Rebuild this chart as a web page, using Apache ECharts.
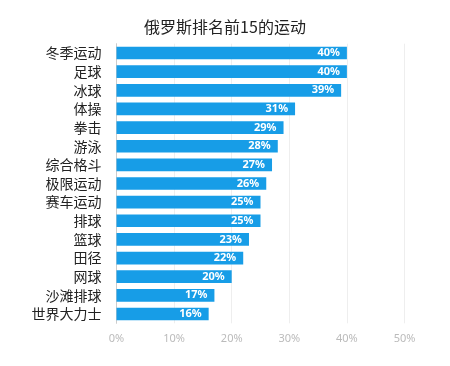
<!DOCTYPE html>
<html><head><meta charset="utf-8">
<script src="https://cdn.jsdelivr.net/npm/echarts@6/dist/echarts.min.js"></script>
<style>html,body{margin:0;padding:0;background:#fff}#c{width:450px;height:366px}</style>
</head><body><div id="c"></div>
<script>
const categories = ['冬季运动','足球','冰球','体操','拳击','游泳','综合格斗','极限运动','赛车运动','排球','篮球','田径','网球','沙滩排球','世界大力士'];
const values = [40,40,39,31,29,28,27,26,25,25,23,22,20,17,16];
const titleText = '俄罗斯排名前15的运动';
const chart = echarts.init(document.getElementById('c'));
chart.setOption({
  animation:false,
  title:{text:titleText,left:'center',top:14,textStyle:{fontSize:16,fontWeight:'normal',color:'#222',fontFamily:'Noto Sans CJK SC'}},
  grid:{left:116.5,right:45.5,top:43.7,bottom:42.7},
  xAxis:{type:'value',min:0,max:50,interval:10,
    axisLabel:{formatter:'{value}%',color:'#bbb',fontSize:11,margin:10,fontFamily:'Noto Sans'},
    splitLine:{lineStyle:{color:'#eee'}},axisLine:{show:false},axisTick:{show:false}},
  yAxis:{type:'category',data:categories,inverse:true,
    axisLabel:{color:'#222',fontSize:14,margin:15,fontFamily:'Noto Sans CJK SC'},
    axisLine:{show:true,lineStyle:{color:'#ccc'}},axisTick:{show:false}},
  series:[{type:'bar',data:values,barWidth:'68%',itemStyle:{color:'#179de7'},
    label:{show:true,position:'insideRight',formatter:'{c}%',color:'#fff',fontWeight:'bold',fontSize:11,fontFamily:'Noto Sans',offset:[-2,0]}}]
});
</script></body></html>
